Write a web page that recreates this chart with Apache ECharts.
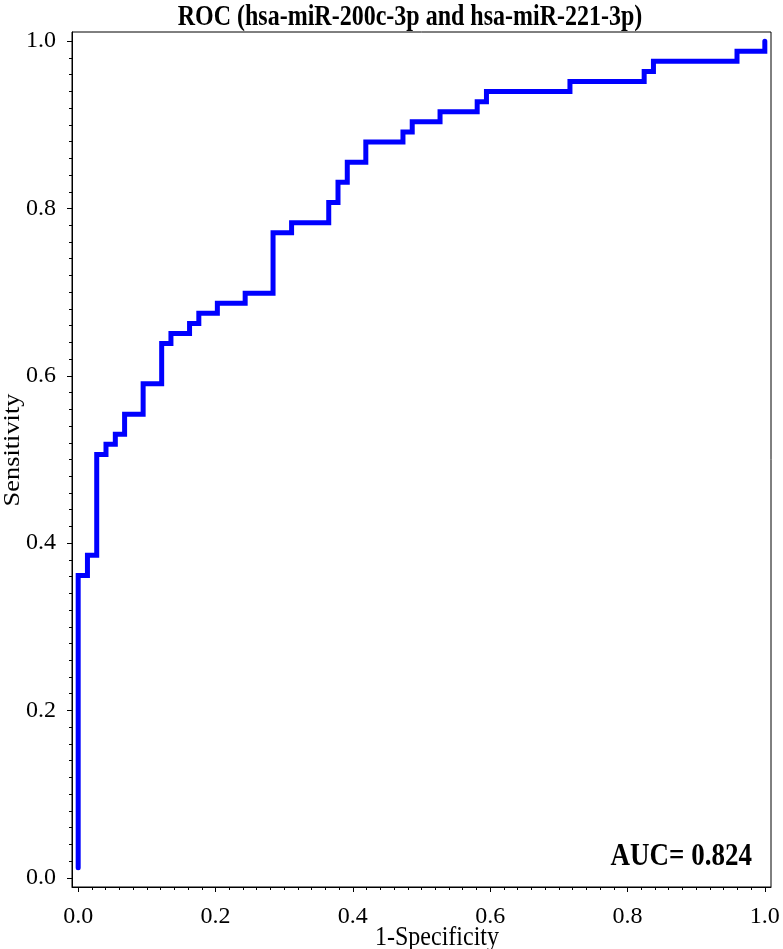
<!DOCTYPE html>
<html>
<head>
<meta charset="utf-8">
<script src="https://cdn.jsdelivr.net/npm/echarts@6/dist/echarts.min.js"></script>
<style>
html,body{margin:0;padding:0;background:#fff;}
#chart{width:783px;height:949px;}
</style>
</head>
<body>
<div id="chart"></div>
<script>
// ROC curve corner points (1-Specificity, Sensitivity)
const fpr = [0, 0, 0.0135, 0.0135, 0.0270, 0.0270, 0.0405, 0.0405, 0.0541, 0.0541,
  0.0676, 0.0676, 0.0946, 0.0946, 0.1216, 0.1216, 0.1351, 0.1351, 0.1622, 0.1622,
  0.1757, 0.1757, 0.2027, 0.2027, 0.2432, 0.2432, 0.2838, 0.2838, 0.3108, 0.3108,
  0.3649, 0.3649, 0.3784, 0.3784, 0.3919, 0.3919, 0.4189, 0.4189, 0.4730, 0.4730,
  0.4865, 0.4865, 0.5270, 0.5270, 0.5811, 0.5811, 0.5946, 0.5946, 0.7162, 0.7162,
  0.8243, 0.8243, 0.8378, 0.8378, 0.9595, 0.9595, 1.0, 1.0];
const tpr = [0.0120, 0.3614, 0.3614, 0.3855, 0.3855, 0.5060, 0.5060, 0.5181, 0.5181, 0.5301,
  0.5301, 0.5542, 0.5542, 0.5904, 0.5904, 0.6386, 0.6386, 0.6506, 0.6506, 0.6627,
  0.6627, 0.6747, 0.6747, 0.6867, 0.6867, 0.6988, 0.6988, 0.7711, 0.7711, 0.7831,
  0.7831, 0.8072, 0.8072, 0.8313, 0.8313, 0.8554, 0.8554, 0.8795, 0.8795, 0.8916,
  0.8916, 0.9036, 0.9036, 0.9157, 0.9157, 0.9277, 0.9277, 0.9398, 0.9398, 0.9518,
  0.9518, 0.9639, 0.9639, 0.9759, 0.9759, 0.9880, 0.9880, 1.0];
const majorTicks = [0, 0.2, 0.4, 0.6, 0.8, 1.0];
const titleText = 'ROC (hsa-miR-200c-3p and hsa-miR-221-3p)';
const xName = '1-Specificity';
const yName = 'Sensitivity';
const aucText = 'AUC= 0.824';

const minorTicks = [];
for (let i = 0; i <= 50; i++) minorTicks.push(Math.round(i * 2) / 100);

const FONT = '"Liberation Serif", "Times New Roman", serif';
const XMIN = -0.009, XMAX = 1.009, YMIN = -0.011, YMAX = 1.011;

function mkAxis(isX, major) {
  return {
    type: 'value', min: isX ? XMIN : YMIN, max: isX ? XMAX : YMAX,
    position: isX ? 'bottom' : 'left',
    splitLine: {show: false},
    axisLine: {show: major, onZero: false, lineStyle: {color: '#000', width: 1}},
    axisTick: {show: true, inside: false, length: major ? 5 : 3,
      customValues: major ? majorTicks : minorTicks,
      lineStyle: {color: '#000', width: 1}},
    axisLabel: {show: major, customValues: majorTicks, margin: isX ? 18 : 16,
      formatter: v => Number(v).toFixed(1),
      color: '#000', fontFamily: FONT, fontSize: 24}
  };
}

const chart = echarts.init(document.getElementById('chart'), null, {renderer: 'canvas'});
chart.setOption({
  animation: false,
  backgroundColor: '#fff',
  grid: {left: 72, right: 12, top: 32, bottom: 62, show: true, borderColor: '#000', borderWidth: 1, backgroundColor: 'transparent'},
  xAxis: [mkAxis(true, true), mkAxis(true, false)],
  yAxis: [mkAxis(false, true), mkAxis(false, false)],
  graphic: [
    {type: 'text', x: 410, y: 18, scaleY: 1.2,
      style: {text: titleText, align: 'center', verticalAlign: 'middle', fontFamily: FONT, fontWeight: 'bold', fontSize: 24, fill: '#000'}},
    {type: 'text', x: 437, y: 938, scaleY: 1.1,
      style: {text: xName, align: 'center', verticalAlign: 'middle', fontFamily: FONT, fontSize: 24, fill: '#000'}},
    {type: 'text', x: 13, y: 450, rotation: Math.PI / 2, scaleX: 1.1,
      style: {text: yName, align: 'center', verticalAlign: 'middle', fontFamily: FONT, fontSize: 24, fill: '#000'}},
    {type: 'text', x: 752, y: 857, scaleY: 1.15,
      style: {text: aucText, align: 'right', verticalAlign: 'middle', fontFamily: FONT, fontWeight: 'bold', fontSize: 27, fill: '#000'}}
  ],
  series: [{
    type: 'line', xAxisIndex: 0, yAxisIndex: 0,
    data: fpr.map((x, i) => [x, tpr[i]]),
    showSymbol: false, symbol: 'none',
    lineStyle: {color: '#0000ff', width: 5, cap: 'round', join: 'miter'},
    silent: true
  }]
});
</script>
</body>
</html>
